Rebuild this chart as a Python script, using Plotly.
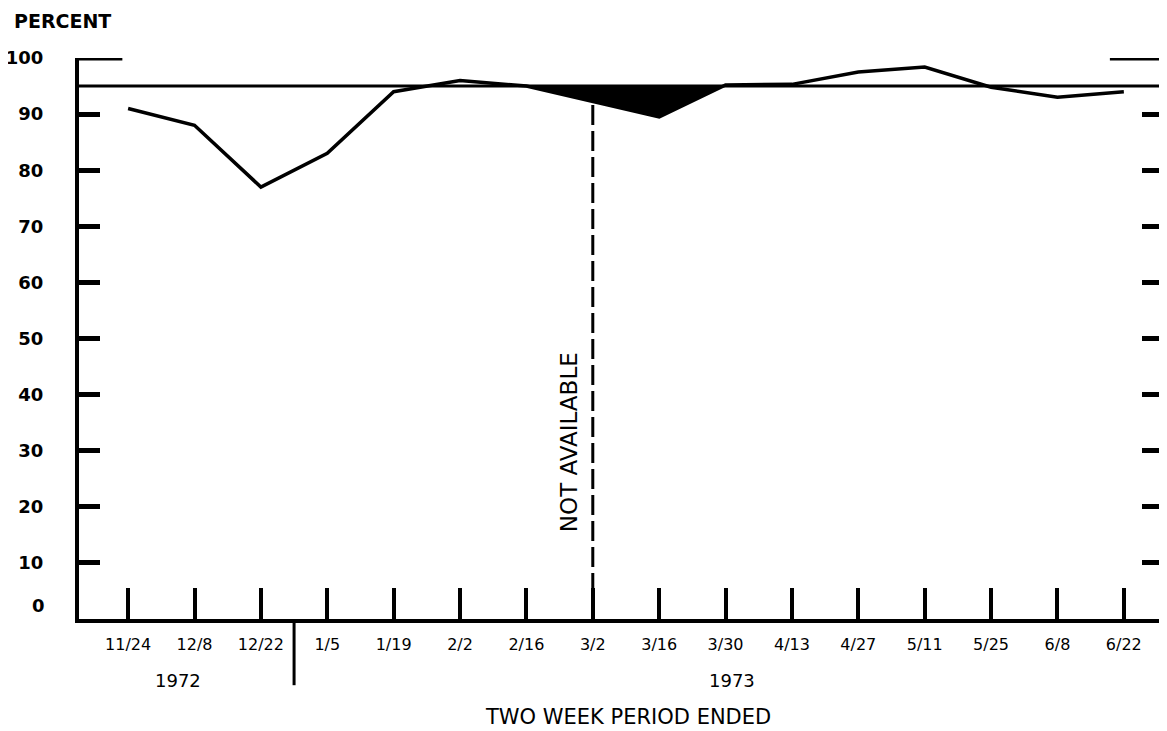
import plotly.graph_objects as go

# two week periods ended (Nov 1972 - Jun 1973)
periods = ["11/24", "12/8", "12/22", "1/5", "1/19", "2/2", "2/16", "3/2",
           "3/16", "3/30", "4/13", "4/27", "5/11", "5/25", "6/8", "6/22"]
percent = [91, 88, 77, 83, 94, 96, 95, None,
           89.5, 95.2, 95.3, 97.5, 98.4, 94.8, 93, 94]
target = 95
y_ticks = [10, 20, 30, 40, 50, 60, 70, 80, 90, 100]
years = ["1972", "1973"]
year_pos = [0.75, 9.1]
shade_from, shade_to = "2/16", "3/30"
missing = "3/2"

x = list(range(len(periods)))
FONT = "DejaVu Sans"

fig = go.Figure()

# black shaded shortfall below target
i0, i1 = periods.index(shade_from), periods.index(shade_to)
sx = [i for i in range(i0, i1 + 1) if percent[i] is not None]
sy = [percent[i] for i in sx]
fig.add_trace(go.Scatter(
    x=sx + [i1, i0], y=sy + [target, target],
    fill="toself", fillcolor="black", mode="lines",
    line=dict(color="black", width=1), hoverinfo="skip",
))

fig.add_hline(y=target, line=dict(color="black", width=3))

fig.add_trace(go.Scatter(
    x=x, y=percent, mode="lines", connectgaps=True,
    line=dict(color="black", width=3.5),
))

# dashed marker for the unavailable period
im = periods.index(missing)
top = (percent[im - 1] + percent[im + 1]) / 2
fig.add_shape(type="line", x0=im, x1=im, y0=0, y1=top,
              line=dict(color="black", width=3, dash="20px,6px"))
fig.add_annotation(x=im - 0.36, y=31.5, text="NOT AVAILABLE", textangle=-90,
                   showarrow=False, font=dict(family=FONT, size=23, color="black"))

# corner caps at 100
fig.add_shape(type="line", xref="paper", x0=0, x1=0.04, y0=100, y1=100,
              line=dict(color="black", width=5))
fig.add_shape(type="line", xref="paper", x0=0.951, x1=1, y0=100, y1=100,
              line=dict(color="black", width=5))

# year divider below the axis
fig.add_shape(type="line", x0=2.5, x1=2.5, yref="paper", y0=0, y1=-0.118,
              line=dict(color="black", width=3))
for yr, pos in zip(years, year_pos):
    fig.add_annotation(x=pos, yref="paper", y=-0.109, yanchor="middle",
                       text=yr, showarrow=False,
                       font=dict(family=FONT, size=18, color="black"))

fig.add_annotation(xref="paper", x=0.506, yref="paper", y=-0.175, yanchor="middle",
                   text="TWO WEEK PERIOD ENDED", showarrow=False,
                   font=dict(family=FONT, size=21, color="black"))
fig.add_annotation(xref="paper", x=-0.062, xanchor="left", yref="paper", y=1.066,
                   yanchor="middle", text="PERCENT", showarrow=False,
                   font=dict(family=FONT, size=19, color="black", weight="bold"))
fig.add_annotation(xref="paper", x=-0.0295, xanchor="right", y=0, yshift=14,
                   yanchor="middle", text="0", showarrow=False,
                   font=dict(family=FONT, size=18, color="black", weight="bold"))

# page body adds ~8px offset, so margins are trimmed by that amount
fig.update_layout(
    width=1167, height=731,
    margin=dict(l=71, r=12, t=50, b=120),
    plot_bgcolor="white", paper_bgcolor="white",
    showlegend=False,
    xaxis=dict(
        range=[-0.74, 15.59], tickvals=x, ticktext=periods,
        ticks="inside", ticklen=31, tickwidth=4, tickcolor="black",
        showline=True, linewidth=4, linecolor="black", automargin=False,
        showgrid=False, zeroline=False, ticklabelstandoff=8,
        tickfont=dict(family=FONT, size=16, color="black"),
    ),
    yaxis=dict(
        range=[0, 100], tickvals=y_ticks,
        ticks="inside", ticklen=21, tickwidth=5, tickcolor="black",
        showline=True, linewidth=4, linecolor="black", mirror="ticks",
        automargin=False,
        showgrid=False, zeroline=False, ticklabelstandoff=28,
        tickfont=dict(family=FONT, size=18, color="black", weight="bold"),
    ),
)

fig.write_html("out.html")
